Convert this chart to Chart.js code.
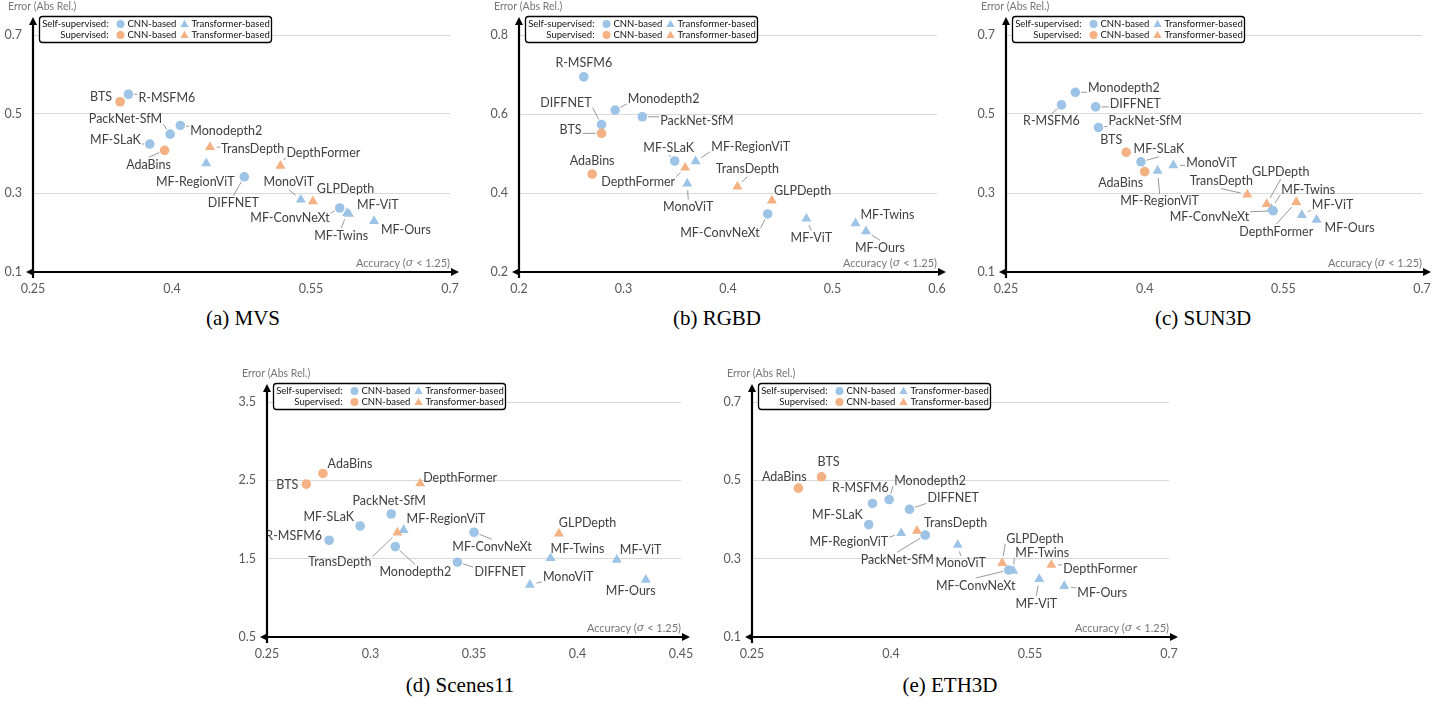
<!DOCTYPE html>
<html><head><meta charset="utf-8">
<script src="https://cdn.jsdelivr.net/npm/chart.js@4.4.0/dist/chart.umd.min.js"></script>
<style>
body{margin:0;width:1454px;height:709px;background:#fff;position:relative;overflow:hidden}
canvas{position:absolute}
.cap{position:absolute;font-family:'Liberation Serif',serif;font-size:21px;color:#000;transform:translate(-50%,-50%);white-space:nowrap}
</style></head><body>
<script>
// ---------------- DATA ----------------
const methods = ['Monodepth2','PackNet-SfM','R-MSFM6','DIFFNET','MF-SLaK','MF-ConvNeXt','MonoViT','MF-RegionViT','MF-ViT','MF-Twins','MF-Ours','BTS','AdaBins','TransDepth','DepthFormer','GLPDepth'];
const supervision = ['Self-supervised','Self-supervised','Self-supervised','Self-supervised','Self-supervised','Self-supervised','Self-supervised','Self-supervised','Self-supervised','Self-supervised','Self-supervised','Supervised','Supervised','Supervised','Supervised','Supervised'];
const architecture = ['CNN','CNN','CNN','CNN','CNN','CNN','Transformer','Transformer','Transformer','Transformer','Transformer','CNN','CNN','Transformer','Transformer','Transformer'];

const mvsAccuracy = [0.409,0.398,0.353,0.478,0.376,0.581,0.539,0.437,0.591,0.589,0.618,0.344,0.392,0.441,0.517,0.552];
const mvsError    = [0.471,0.449,0.550,0.341,0.424,0.262,0.283,0.375,0.247,0.249,0.229,0.531,0.408,0.416,0.369,0.279];

const rgbdAccuracy = [0.292,0.318,0.262,0.279,0.349,0.438,0.361,0.369,0.475,0.522,0.532,0.279,0.270,0.409,0.359,0.442];
const rgbdError    = [0.610,0.593,0.694,0.573,0.481,0.347,0.424,0.480,0.335,0.323,0.303,0.551,0.448,0.416,0.464,0.381];

const sun3dAccuracy = [0.325,0.350,0.310,0.347,0.396,0.539,0.431,0.414,0.570,0.537,0.586,0.380,0.400,0.511,0.564,0.532];
const sun3dError    = [0.555,0.466,0.523,0.518,0.379,0.255,0.370,0.356,0.244,0.260,0.232,0.403,0.354,0.296,0.277,0.272];

const scenes11Accuracy = [0.312,0.310,0.280,0.342,0.295,0.350,0.377,0.316,0.419,0.387,0.433,0.269,0.277,0.313,0.324,0.391];
const scenes11Error    = [1.654,2.070,1.735,1.455,1.917,1.837,1.166,1.866,1.484,1.506,1.230,2.452,2.588,1.832,2.460,1.820];

const eth3dAccuracy = [0.398,0.437,0.380,0.420,0.376,0.527,0.472,0.411,0.560,0.532,0.587,0.325,0.300,0.428,0.573,0.520];
const eth3dError    = [0.451,0.360,0.441,0.426,0.387,0.271,0.335,0.365,0.248,0.269,0.230,0.509,0.480,0.371,0.284,0.289];

const mvsXTicks = [0.25,0.4,0.55,0.7];        const mvsYTicks = [0.1,0.3,0.5,0.7];
const rgbdXTicks = [0.2,0.3,0.4,0.5,0.6];     const rgbdYTicks = [0.2,0.4,0.6,0.8];
const sun3dXTicks = [0.25,0.4,0.55,0.7];      const sun3dYTicks = [0.1,0.3,0.5,0.7];
const scenes11XTicks = [0.25,0.3,0.35,0.4,0.45]; const scenes11YTicks = [0.5,1.5,2.5,3.5];
const eth3dXTicks = [0.25,0.4,0.55,0.7];      const eth3dYTicks = [0.1,0.3,0.5,0.7];

const captions = ['(a) MVS','(b) RGBD','(c) SUN3D','(d) Scenes11','(e) ETH3D'];
const yAxisTitle = 'Error (Abs Rel.)';
const xAxisTitleParts = ['Accuracy (', 'σ', ' < 1.25)'];
const legendRows = ['Self-supervised:','Supervised:'];
const legendCols = ['CNN-based','Transformer-based'];

// ---------------- STYLE / LAYOUT ----------------
const BLUE = '#9DC3E6', ORANGE = '#F4B183';
const FONT = 'Lato, "Liberation Sans", sans-serif';
// label placement per method: [dx, dy, align, leader]
const labelLayout = {
  mvs: [[10,6,'l',1],[-8,-15,'r',1],[10,3.5,'l',1],[-11,20,'b',1],[-9,-4,'r',1],[-10,10,'r',1],[-12,-11,'t',1],[-11,12,'b',0],[8,-9,'l',1],[-6,16,'b',1],[7,9,'l',1],[-8,-4.5,'r',1],[-16,8,'b',1],[11,2,'l',1],[6,-13,'l',1],[4,-12,'l',1]],
  rgbd: [[12.6,-11,'l',1],[18,4,'l',1],[0,-7,'t',0],[-10,-22,'r',1],[-6,-7,'t',1],[-8,19,'r',1],[1,17,'b',1],[15.7,-14.7,'l',1],[5,13,'b',1],[5,-8,'l',0],[14,10,'b',1],[-20,-3,'r',1],[0,-7,'t',0],[10,-11,'t',1],[-10,14,'r',1],[2,-10,'l',0]],
  sun3d: [[12.6,-4,'l',1],[10,-6,'l',1],[-10,10,'b',1],[14,-3,'l',1],[18,-6,'t',1],[-24,6,'r',1],[13,-2,'l',1],[2,24,'b',1],[10,-10,'l',1],[10,-19,'l',1],[8,8,'l',1],[-4,-12,'r',1],[-24,5,'b',0],[-26,-7,'t',1],[-20,23,'b',1],[14,-26,'t',1]],
  scenes11: [[20,19,'b',1],[-2,-7,'t',1],[-7,-4,'r',1],[17,10,'l',1],[-6,-9,'r',1],[18,8,'b',1],[13,-8,'l',1],[3,-11,'l',0],[3,-10,'l',0],[0,-9,'l',0],[-15,5,'b',0],[-8,1,'r',0],[4.7,-9,'l',0],[-26,29,'r',1],[3,-5,'l',0],[0,-11,'l',0]],
  eth3d: [[5,-19,'l',1],[-28,18,'b',1],[-12,-9,'t',0],[18,-11,'l',1],[-6,-10,'r',1],[-33,9,'b',1],[3,12,'b',1],[-13,9,'r',1],[-3,18,'b',1],[2,-18,'l',1],[13,7,'l',1],[7,-8,'t',0],[-14,-5,'t',0],[7,-8,'l',1],[12,4,'l',1],[4,-24,'l',1]]
};

const panels = [
  {acc:mvsAccuracy, err:mvsError, xt:mvsXTicks, yt:mvsYTicks, lab:labelLayout.mvs, box:[0,0,480,300], area:[33,35,450,272], cap:[243,318]},
  {acc:rgbdAccuracy, err:rgbdError, xt:rgbdXTicks, yt:rgbdYTicks, lab:labelLayout.rgbd, box:[480,0,490,300], area:[519,35,937,272], cap:[717,318]},
  {acc:sun3dAccuracy, err:sun3dError, xt:sun3dXTicks, yt:sun3dYTicks, lab:labelLayout.sun3d, box:[970,0,484,300], area:[1006,35,1422,272], cap:[1203,318]},
  {acc:scenes11Accuracy, err:scenes11Error, xt:scenes11XTicks, yt:scenes11YTicks, lab:labelLayout.scenes11, box:[220,350,500,320], area:[267,402,681,637], cap:[460,685]},
  {acc:eth3dAccuracy, err:eth3dError, xt:eth3dXTicks, yt:eth3dYTicks, lab:labelLayout.eth3d, box:[720,350,500,320], area:[752,402,1169,637], cap:[950,685]}
];

function colorOf(i){ return supervision[i]==='Supervised' ? ORANGE : BLUE; }
function styleOf(i){ return architecture[i]==='CNN' ? 'circle' : 'triangle'; }
function radiusOf(i){ return architecture[i]==='CNN' ? 4.8 : 5.8; }
const clamp=(v,a,b)=>Math.max(a,Math.min(b,v));

function tri(ctx,x,y,r){ ctx.beginPath(); ctx.moveTo(x,y-r); ctx.lineTo(x+r*0.866,y+r*0.5); ctx.lineTo(x-r*0.866,y+r*0.5); ctx.closePath(); ctx.fill(); }
function arrowHead(ctx,x,y,dir){
  const L=8,W=4; ctx.beginPath();
  if(dir==='r'){ctx.moveTo(x,y);ctx.lineTo(x-L,y-W);ctx.lineTo(x-L,y+W);}
  if(dir==='l'){ctx.moveTo(x,y);ctx.lineTo(x+L,y-W);ctx.lineTo(x+L,y+W);}
  if(dir==='u'){ctx.moveTo(x,y);ctx.lineTo(x-W,y+L);ctx.lineTo(x+W,y+L);}
  ctx.closePath(); ctx.fill();
}

function makePlugin(p){
  return {
    id:'decor',
    afterDatasetsDraw(chart){
      const ctx=chart.ctx, meta=chart.getDatasetMeta(0);
      ctx.save();
      ctx.font='12.5px '+FONT;
      meta.data.forEach((el,i)=>{
        const [dx,dy,al,ld]=p.lab[i]; const px=el.x, py=el.y;
        const ax=px+dx, ay=py+dy; const txt=methods[i];
        let tx=ax, ty=ay, ex=ax, ey=ay;
        ctx.textBaseline='middle';
        if(al==='l'){ctx.textAlign='left'; ex=ax-1; ey=ay+clamp(py-ay,-5,5);}
        else if(al==='r'){ctx.textAlign='right'; ex=ax+1; ey=ay+clamp(py-ay,-5,5);}
        else if(al==='t'){ctx.textAlign='center'; ty=ay-6.5; ey=ay+1;}
        else {ctx.textAlign='center'; ty=ay+6.5; ey=ay-1;}
        if(ld){
          const vx=ex-px, vy=ey-py, d=Math.hypot(vx,vy), r=radiusOf(i)+1;
          if(d>r+2){
            ctx.strokeStyle='#8c8c8c'; ctx.lineWidth=0.9;
            ctx.beginPath(); ctx.moveTo(px+vx/d*r, py+vy/d*r); ctx.lineTo(ex,ey); ctx.stroke();
          }
        }
        ctx.fillStyle='#404040';
        ctx.fillText(txt,tx,ty);
      });
      ctx.restore();
    },
    afterDraw(chart){
      const ctx=chart.ctx, ca=chart.chartArea;
      const L=ca.left, R=ca.right, T=ca.top, B=ca.bottom;
      ctx.save();
      // axes
      ctx.strokeStyle='#000'; ctx.fillStyle='#000'; ctx.lineWidth=2.2;
      ctx.beginPath(); ctx.moveTo(L-4,B); ctx.lineTo(R+2,B); ctx.stroke();
      arrowHead(ctx,R+9,B,'r'); arrowHead(ctx,L-7,B,'l');
      ctx.beginPath(); ctx.moveTo(L,B+6); ctx.lineTo(L,T-11); ctx.stroke();
      arrowHead(ctx,L,T-18,'u');
      // axis titles
      ctx.fillStyle='#767676'; ctx.textBaseline='middle';
      ctx.font='10.5px '+FONT; ctx.textAlign='left';
      ctx.fillText(yAxisTitle,L-25,T-28);
      const fN='11px '+FONT, fI='italic 11px "DejaVu Serif", serif';
      ctx.font=fN; const w0=ctx.measureText(xAxisTitleParts[0]).width, w2=ctx.measureText(xAxisTitleParts[2]).width;
      ctx.font=fI; const w1=ctx.measureText(xAxisTitleParts[1]).width;
      let x=R-(w0+w1+w2), y=B-9;
      ctx.font=fN; ctx.fillText(xAxisTitleParts[0],x,y); x+=w0;
      ctx.font=fI; ctx.fillText(xAxisTitleParts[1],x,y); x+=w1;
      ctx.font=fN; ctx.fillText(xAxisTitleParts[2],x,y);
      // legend
      const bx=L+6.5, by=T-18.5, bw=232, bh=26;
      ctx.fillStyle='#fff'; ctx.strokeStyle='#000'; ctx.lineWidth=1.3;
      ctx.beginPath(); ctx.roundRect(bx,by,bw,bh,3); ctx.fill(); ctx.stroke();
      ctx.font='9.5px '+FONT; ctx.fillStyle='#111';
      const rows=[by+7.5,by+18.5];
      rows.forEach((ry,k)=>{
        ctx.textAlign='right'; ctx.fillStyle='#111'; ctx.fillText(legendRows[k],bx+69,ry);
        ctx.textAlign='left'; ctx.fillText(legendCols[0],bx+88,ry); ctx.fillText(legendCols[1],bx+152,ry);
        const c=k===0?BLUE:ORANGE; ctx.fillStyle=c;
        ctx.beginPath(); ctx.arc(bx+81,ry,4,0,Math.PI*2); ctx.fill();
        tri(ctx,bx+145,ry+0.5,4.8);
      });
      ctx.restore();
    }
  };
}

panels.forEach((p,k)=>{
  const [cx,cy,cw,ch]=p.box, [L,T,R,B]=p.area;
  const cv=document.createElement('canvas');
  cv.width=cw; cv.height=ch; cv.style.left=cx+'px'; cv.style.top=cy+'px'; cv.style.width=cw+'px'; cv.style.height=ch+'px';
  document.body.appendChild(cv);
  const cap=document.createElement('div'); cap.className='cap'; cap.textContent=captions[k];
  cap.style.left=p.cap[0]+'px'; cap.style.top=p.cap[1]+'px'; document.body.appendChild(cap);
  new Chart(cv,{
    type:'scatter',
    data:{datasets:[{
      data:p.acc.map((a,i)=>({x:a,y:p.err[i]})),
      pointStyle:c=>styleOf(c.dataIndex),
      pointRadius:c=>radiusOf(c.dataIndex),
      pointHoverRadius:c=>radiusOf(c.dataIndex),
      pointBackgroundColor:c=>colorOf(c.dataIndex),
      pointBorderWidth:0
    }]},
    options:{
      responsive:false, animation:false, events:[], devicePixelRatio:1,
      layout:{padding:{left:0,top:T-cy,right:cx+cw-R,bottom:0}},
      plugins:{legend:{display:false},tooltip:{enabled:false}},
      scales:{
        x:{type:'linear',min:p.xt[0],max:p.xt[p.xt.length-1],
           afterBuildTicks:s=>{s.ticks=p.xt.map(v=>({value:v}));},
           afterFit:s=>{s.height=cy+ch-B;},
           grid:{display:false,drawTicks:false}, border:{display:false},
           ticks:{padding:9,maxRotation:0,autoSkip:false,color:'#595959',font:{family:FONT,size:12.5},callback:v=>String(v)}},
        y:{type:'linear',min:p.yt[0],max:p.yt[p.yt.length-1],
           afterBuildTicks:s=>{s.ticks=p.yt.map(v=>({value:v}));},
           afterFit:s=>{s.width=L-cx;},
           grid:{color:'#d9d9d9',lineWidth:1,drawTicks:false}, border:{display:false},
           ticks:{padding:11,color:'#595959',font:{family:FONT,size:12.5},callback:v=>String(v)}}
      }
    },
    plugins:[makePlugin(p)]
  });
});
</script>
</body></html>
